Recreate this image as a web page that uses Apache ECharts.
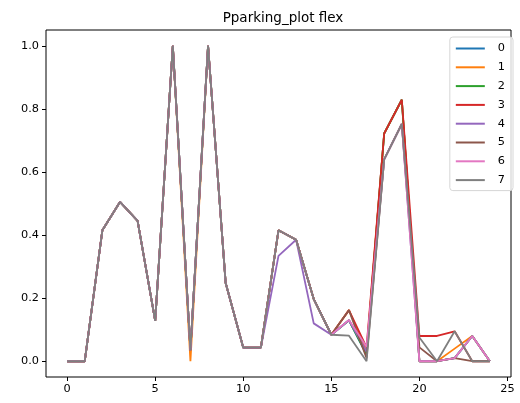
<!DOCTYPE html>
<html>
<head>
<meta charset="utf-8">
<script src="https://cdn.jsdelivr.net/npm/echarts@6/dist/echarts.min.js"></script>
<style>
  html, body { margin: 0; padding: 0; background: #fff; }
  #chart { width: 520px; height: 403px; }
</style>
</head>
<body>
<div id="chart"></div>
<script>
// Time steps along the x axis
const xValues = [0, 1, 2, 3, 4, 5, 6, 7, 8, 9, 10, 11, 12, 13, 14, 15, 16, 17, 18, 19, 20, 21, 22, 23, 24];

// Flex values per series
const s0 = [0, 0, 0.415, 0.505, 0.445, 0.128, 1.0, 0.035, 1.0, 0.248, 0.043, 0.043, 0.415, 0.385, 0.197, 0.084, 0.13, 0.02, 0.722, 0.829, 0.0, 0.0, 0.01, 0.08, 0.0];
const s1 = [0, 0, 0.415, 0.505, 0.445, 0.128, 1.0, 0.0, 1.0, 0.248, 0.043, 0.043, 0.415, 0.385, 0.197, 0.084, 0.162, 0.03, 0.722, 0.829, 0.0, 0.0, 0.04, 0.08, 0.0];
const s2 = [0, 0, 0.415, 0.505, 0.445, 0.128, 1.0, 0.035, 1.0, 0.248, 0.043, 0.043, 0.415, 0.385, 0.197, 0.084, 0.13, 0.022, 0.722, 0.829, 0.0, 0.0, 0.01, 0.08, 0.0];
const s3 = [0, 0, 0.415, 0.505, 0.445, 0.128, 1.0, 0.035, 1.0, 0.248, 0.043, 0.043, 0.415, 0.385, 0.197, 0.084, 0.162, 0.044, 0.722, 0.829, 0.08, 0.08, 0.095, 0.0, 0.0];
const s4 = [0, 0, 0.415, 0.505, 0.445, 0.128, 1.0, 0.035, 1.0, 0.248, 0.043, 0.043, 0.334, 0.385, 0.12, 0.084, 0.13, 0.03, 0.64, 0.752, 0.0, 0.0, 0.01, 0.08, 0.0];
const s5 = [0, 0, 0.415, 0.505, 0.445, 0.128, 1.0, 0.035, 1.0, 0.248, 0.043, 0.043, 0.415, 0.385, 0.197, 0.084, 0.162, 0.01, 0.64, 0.752, 0.044, 0.0, 0.01, 0.0, 0.0];
const s6 = [0, 0, 0.415, 0.505, 0.445, 0.128, 1.0, 0.035, 1.0, 0.248, 0.043, 0.043, 0.415, 0.385, 0.197, 0.084, 0.131, 0.046, 0.64, 0.752, 0.0, 0.0, 0.01, 0.08, 0.0];
const s7 = [0, 0, 0.415, 0.505, 0.445, 0.128, 1.0, 0.035, 1.0, 0.248, 0.043, 0.043, 0.415, 0.385, 0.197, 0.084, 0.081, 0.0, 0.64, 0.752, 0.075, 0.0, 0.095, 0.0, 0.0];

const seriesNames = ['0', '1', '2', '3', '4', '5', '6', '7'];
const seriesValues = [s0, s1, s2, s3, s4, s5, s6, s7];
const colors = ['#1f77b4', '#ff7f0e', '#2ca02c', '#d62728', '#9467bd', '#8c564b', '#e377c2', '#7f7f7f'];

// Tick positions
const xTicks = [0, 5, 10, 15, 20, 25];
const yTicks = [0, 0.2, 0.4, 0.6, 0.8, 1.0];

const fontFamily = 'DejaVu Sans';

const chart = echarts.init(document.getElementById('chart'), null, { renderer: 'canvas' });

chart.setOption({
  animation: false,
  color: colors,
  textStyle: { fontFamily: fontFamily },
  title: {
    text: 'Pparking_plot flex',
    left: 278,
    textAlign: 'center',
    top: 6,
    textStyle: { fontFamily: fontFamily, fontSize: 13.5, fontWeight: 'normal', color: '#000' }
  },
  legend: {
    orient: 'vertical',
    right: 7,
    top: 37,
    data: seriesNames,
    icon: 'rect',
    itemWidth: 29,
    itemHeight: 2,
    itemGap: 7.8,
    padding: [6, 8, 5, 6],
    borderColor: '#d6d6d6',
    borderWidth: 1,
    borderRadius: 3,
    backgroundColor: 'rgba(255,255,255,0.8)',
    textStyle: { fontFamily: fontFamily, fontSize: 11.3, color: '#000', padding: [0, 0, 0, 8] }
  },
  grid: {
    left: 46,
    right: 9,
    top: 30,
    bottom: 26,
    show: true,
    borderColor: '#000',
    borderWidth: 1,
    containLabel: false
  },
  xAxis: {
    type: 'value',
    min: -1.2,
    max: 25.2,
    position: 'bottom',
    splitLine: { show: false },
    axisLine: { show: false, onZero: false },
    axisTick: { show: true, customValues: xTicks, length: 4, lineStyle: { color: '#000' } },
    axisLabel: {
      customValues: xTicks,
      margin: 7,
      fontFamily: fontFamily,
      fontSize: 11.3,
      color: '#000'
    }
  },
  yAxis: {
    type: 'value',
    min: -0.05,
    max: 1.05,
    position: 'left',
    splitLine: { show: false },
    axisLine: { show: false, onZero: false },
    axisTick: { show: true, customValues: yTicks, length: 4, lineStyle: { color: '#000' } },
    axisLabel: {
      customValues: yTicks,
      margin: 7,
      fontFamily: fontFamily,
      fontSize: 11.3,
      color: '#000',
      formatter: v => v.toFixed(1)
    }
  },
  series: seriesNames.map((name, i) => ({
    name: name,
    type: 'line',
    data: xValues.map((x, j) => [x, seriesValues[i][j]]),
    showSymbol: false,
    symbol: 'none',
    lineStyle: { width: 1.8, color: colors[i] },
    itemStyle: { color: colors[i] },
    z: 2 + i
  }))
});
</script>
</body>
</html>
